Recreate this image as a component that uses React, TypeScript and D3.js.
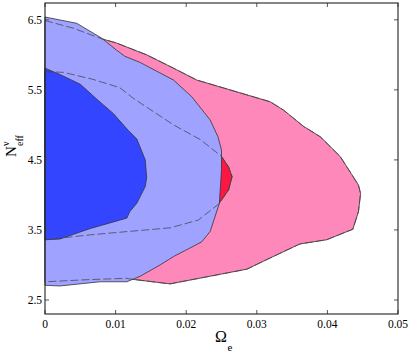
import React, { useEffect, useRef } from "react";
import * as d3 from "d3";

// contour outlines, [Omega_e, N_eff]
const outerPink: [number, number][] = [
  [0, 6.49], [0.004, 6.38], [0.008, 6.23], [0.0101, 6.17], [0.0144, 6.0], [0.0182, 5.81],
  [0.0215, 5.64], [0.0262, 5.5], [0.0319, 5.33], [0.0338, 5.21], [0.0366, 4.98],
  [0.039, 4.83], [0.0418, 4.55], [0.0434, 4.3], [0.0444, 4.14], [0.0447, 4.02],
  [0.0444, 3.76], [0.0436, 3.51], [0.0399, 3.36], [0.0361, 3.3], [0.0319, 3.1],
  [0.0286, 2.94], [0.0177, 2.73], [0.012, 2.8], [0.0116, 2.81], [0.006, 2.79], [0, 2.76],
];

const innerPink: [number, number][] = [
  [0, 5.76], [0.0026, 5.75], [0.0068, 5.65], [0.0106, 5.53], [0.0125, 5.38],
  [0.0182, 5.0], [0.022, 4.79], [0.025, 4.55], [0.026, 4.4], [0.0265, 4.26],
  [0.026, 4.07], [0.0246, 3.87], [0.0217, 3.64], [0.0177, 3.53], [0.012, 3.48],
  [0.0064, 3.43], [0, 3.36],
];

const outerBlue: [number, number][] = [
  [0, 6.54], [0.0045, 6.45], [0.008, 6.24], [0.0101, 6.07], [0.0113, 5.98],
  [0.0135, 5.89], [0.0182, 5.64], [0.0208, 5.4], [0.0234, 5.07], [0.0245, 4.83],
  [0.025, 4.64], [0.025, 4.36], [0.0247, 3.88], [0.0234, 3.48], [0.0222, 3.33],
  [0.0205, 3.24], [0.0182, 3.12], [0.0163, 3.0], [0.0135, 2.84], [0.0116, 2.76],
  [0.0078, 2.76], [0.0021, 2.7], [0, 2.71],
];

const innerBlue: [number, number][] = [
  [0, 5.81], [0.0021, 5.72], [0.005, 5.58], [0.0073, 5.37], [0.0097, 5.16],
  [0.0118, 4.92], [0.013, 4.8], [0.0142, 4.5], [0.0144, 4.25], [0.0142, 4.12],
  [0.0135, 3.98], [0.013, 3.88], [0.012, 3.76], [0.0116, 3.67], [0.0092, 3.6],
  [0.0064, 3.52], [0.0021, 3.37], [0, 3.36],
];

const xTicks = [0, 0.01, 0.02, 0.03, 0.04, 0.05];
const xTickLabels = ["0", "0.01", "0.02", "0.03", "0.04", "0.05"];
const yTicks = [2.5, 3.5, 4.5, 5.5, 6.5];
const yTickLabels = ["2.5", "3.5", "4.5", "5.5", "6.5"];

const App = () => {
  const ref = useRef<SVGSVGElement>(null);

  useEffect(() => {
    const svg = d3.select(ref.current);
    svg.selectAll("*").remove();

    const margin = { top: 3, right: 17, bottom: 43, left: 45 };
    const W = 415, H = 357;
    const x = d3.scaleLinear().domain([0, 0.05]).range([margin.left, W - margin.right]);
    const y = d3.scaleLinear().domain([2.3, 6.74]).range([H - margin.bottom, margin.top]);

    const line = d3.line<[number, number]>()
      .x(d => x(d[0]))
      .y(d => y(d[1]));
    const closed = (pts: [number, number][]) => line(pts) + "Z";

    const g = svg.append("g");
    const regions = [
      { pts: outerPink, fill: "#ff88bb" },
      { pts: innerPink, fill: "#ff1744" },
      { pts: outerBlue, fill: "#9fa2ff" },
      { pts: innerBlue, fill: "#3345ff" },
    ];
    regions.forEach(r => {
      g.append("path")
        .attr("d", closed(r.pts))
        .attr("fill", r.fill)
        .attr("stroke", "#333")
        .attr("stroke-width", 0.8);
    });

    // first set's contours drawn dashed on top
    [outerPink, innerPink].forEach(pts => {
      g.append("path")
        .attr("d", line(pts))
        .attr("fill", "none")
        .attr("stroke", "#444")
        .attr("stroke-width", 0.75)
        .attr("stroke-dasharray", "8,3");
    });

    const [x0, x1] = x.range();
    const [y0, y1] = y.range();
    const tick = 4;

    xTicks.forEach((t, i) => {
      svg.append("line").attr("x1", x(t)).attr("x2", x(t)).attr("y1", y0).attr("y2", y0 - tick)
        .attr("stroke", "#555");
      svg.append("line").attr("x1", x(t)).attr("x2", x(t)).attr("y1", y1).attr("y2", y1 + tick)
        .attr("stroke", "#555");
      svg.append("text")
        .attr("x", x(t)).attr("y", y0 + 14)
        .attr("text-anchor", "middle")
        .attr("font-family", "Liberation Serif, serif")
        .attr("font-size", 11.5)
        .text(xTickLabels[i]);
    });

    yTicks.forEach((t, i) => {
      svg.append("line").attr("x1", x0).attr("x2", x0 + tick).attr("y1", y(t)).attr("y2", y(t))
        .attr("stroke", "#555");
      svg.append("line").attr("x1", x1).attr("x2", x1 - tick).attr("y1", y(t)).attr("y2", y(t))
        .attr("stroke", "#555");
      svg.append("text")
        .attr("x", x0 - 3).attr("y", y(t) + 4)
        .attr("text-anchor", "end")
        .attr("font-family", "Liberation Serif, serif")
        .attr("font-size", 11.5)
        .text(yTickLabels[i]);
    });

    svg.append("rect")
      .attr("x", x0).attr("y", y1)
      .attr("width", x1 - x0).attr("height", y0 - y1)
      .attr("fill", "none")
      .attr("stroke", "#222")
      .attr("stroke-width", 1.1);

    // x label: Omega_e
    const xl = svg.append("text").attr("font-family", "Liberation Serif, serif");
    xl.append("tspan").attr("x", 215).attr("y", 341.5).attr("font-size", 16).text("Ω");
    xl.append("tspan").attr("x", 227.5).attr("y", 350.5).attr("font-size", 11).text("e");

    // y label: N_eff^nu, rotated
    const yl = svg.append("g").attr("transform", "translate(16,157) rotate(-90)")
      .attr("font-family", "Liberation Serif, serif");
    yl.append("text").attr("x", 0).attr("y", 0).attr("font-size", 15).text("N");
    yl.append("text").attr("x", 11).attr("y", -7).attr("font-size", 10).text("ν");
    yl.append("text").attr("x", 11).attr("y", 7).attr("font-size", 10).text("eff");
  }, []);

  return (
    <svg
      ref={ref}
      width={415}
      height={357}
      style={{ position: "absolute", left: 0, top: 0, background: "#fff" }}
    />
  );
};

export default App;
